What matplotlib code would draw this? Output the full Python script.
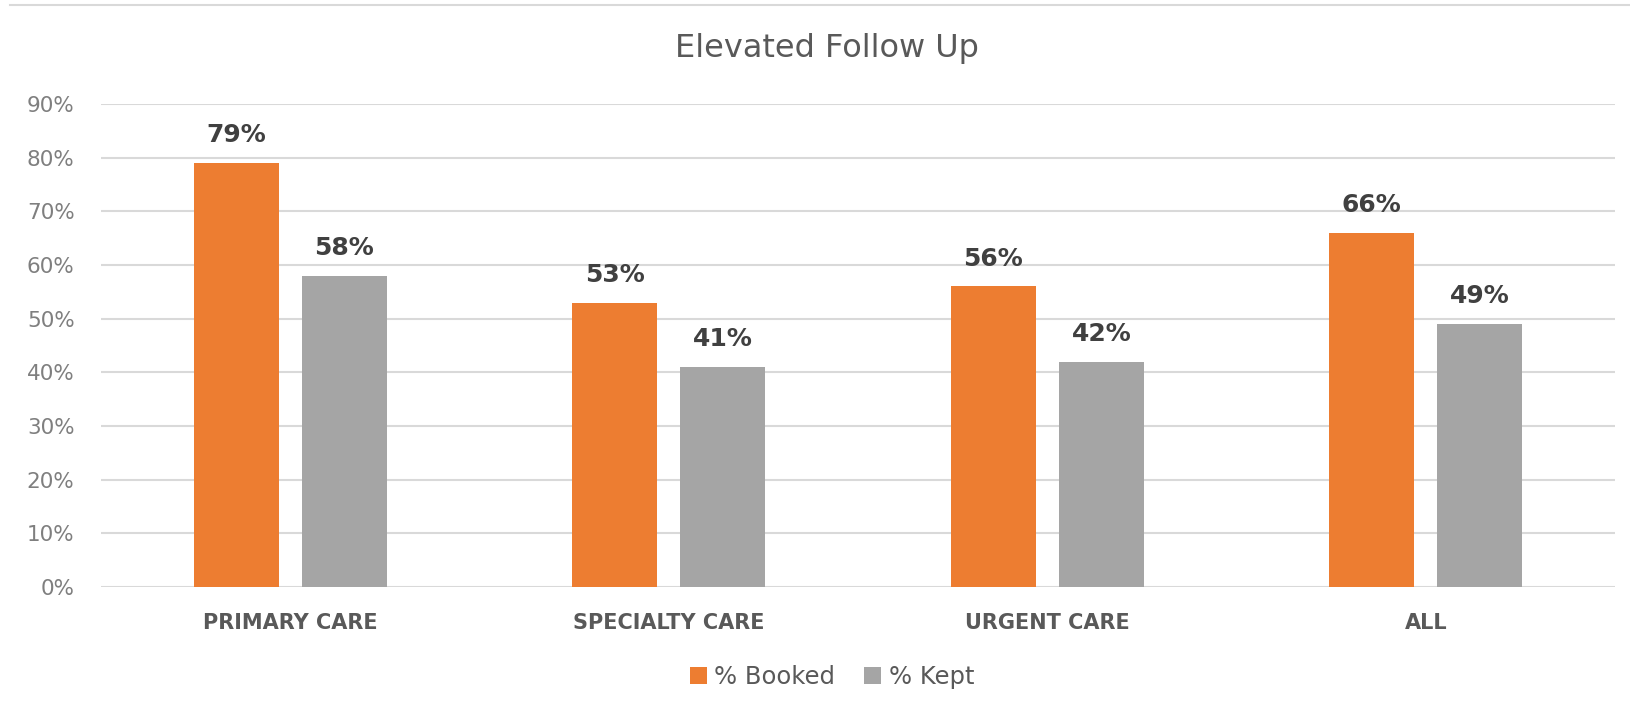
import numpy as np
import matplotlib
matplotlib.use("Agg")
import matplotlib.pyplot as plt
from matplotlib.lines import Line2D
from matplotlib.ticker import PercentFormatter

# chart data
categories = ["PRIMARY CARE", "SPECIALTY CARE", "URGENT CARE", "ALL"]
booked = [79, 53, 56, 66]
kept = [58, 41, 42, 49]
series_names = ["% Booked", "% Kept"]

ORANGE = "#ED7D31"
GRAY = "#A5A5A5"

plt.rcParams["font.family"] = ["DejaVu Sans"]

fig = plt.figure(figsize=(16.31, 7.17), dpi=100)
ax = fig.add_axes([101 / 1631, 1 - 587 / 717, (1615 - 101) / 1631, (587 - 104) / 717])

x = np.arange(len(categories))
width = 0.225
offset = 0.143

bars1 = ax.bar(x - offset, booked, width, color=ORANGE, label=series_names[0], zorder=3)
bars2 = ax.bar(x + offset, kept, width, color=GRAY, label=series_names[1], zorder=3)

# value labels above each bar
for bars, vals in [(bars1, booked), (bars2, kept)]:
    for b, v in zip(bars, vals):
        ax.annotate(f"{v}%", (b.get_x() + b.get_width() / 2, v),
                    xytext=(0, 15), textcoords="offset points",
                    ha="center", va="baseline", fontsize=18,
                    fontweight="bold", color="#404040")

ax.set_xlim(-0.5, len(categories) - 0.5)
ax.set_ylim(0, 90)
ax.set_yticks(np.arange(0, 91, 10))
ax.yaxis.set_major_formatter(PercentFormatter(decimals=0))
ax.set_xticks(x)
ax.set_xticklabels(categories, fontsize=15, fontweight="bold", color="#595959")
ax.tick_params(axis="y", length=0, pad=19, labelsize=15.5, labelcolor="#7F7F7F")
ax.tick_params(axis="x", length=0, pad=19)

ax.grid(axis="y", color="#D9D9D9", linewidth=1.5, zorder=0)
for s in ax.spines.values():
    s.set_visible(False)

fig.text(827 / 1631, 1 - 49 / 717, "Elevated Follow Up", ha="center", va="center",
         fontsize=23, color="#595959")

fig.legend(loc="center", bbox_to_anchor=(832 / 1631, 1 - 677 / 717), ncol=2,
           frameon=False, fontsize=17.5, labelcolor="#595959",
           handlelength=0.7, handleheight=0.7, handletextpad=0.3,
           columnspacing=1.2)

# faint frame line at the top of the image
fig.add_artist(Line2D([10 / 1631, 1], [1 - 5 / 717, 1 - 5 / 717],
                      transform=fig.transFigure, color="#D9D9D9", linewidth=1.5))

fig.savefig("out.png", dpi=100)
